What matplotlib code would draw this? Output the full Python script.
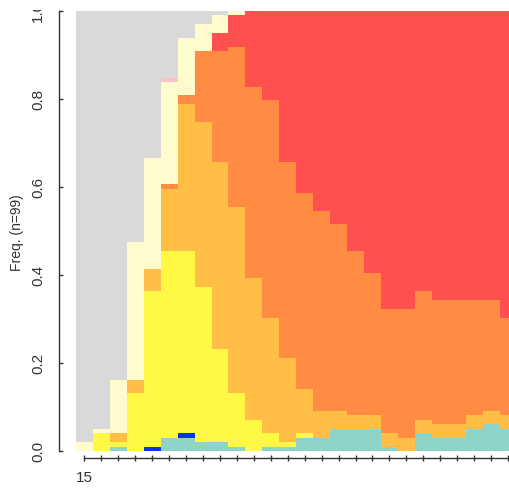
import numpy as np
import matplotlib
matplotlib.use('Agg')
import matplotlib.pyplot as plt
from matplotlib.transforms import Bbox, TransformedBbox

plt.rcParams['font.family'] = ['Liberation Sans', 'DejaVu Sans']

n = 99
# counts per column (26 columns), stacked bottom -> top
teal    = [0,0,1,0,0,3,3,2,2,1,0,1,1,3,3,5,5,5,1,0,4,3,3,5,6,5]
blue    = [0,0,0,0,1,0,1,0,0,0,0,0,0,0,0,0,0,0,0,0,0,0,0,0,0,0]
yellow  = [0,4,1,13,35,42,41,35,21,12,7,3,1,1,0,0,0,0,0,0,0,0,0,0,0,0]
lorange = [0,0,2,3,5,14,33,37,42,42,32,26,19,10,6,4,3,3,3,3,3,3,3,3,3,3]
orange  = [0,0,0,0,0,1,2,16,25,36,43,49,44,44,45,42,37,32,28,29,29,28,28,26,25,22]
red     = [0,0,0,0,0,0,0,0,4,7,17,20,34,41,45,48,54,59,67,67,63,65,65,65,65,69]
lyellow = [2,1,12,31,25,23,13,6,4,1,0,0,0,0,0,0,0,0,0,0,0,0,0,0,0,0]
pink    = [0,0,0,0,0,1,0,0,0,0,0,0,0,0,0,0,0,0,0,0,0,0,0,0,0,0]
gray    = [97,94,83,52,33,15,6,3,1,0,0,0,0,0,0,0,0,0,0,0,0,0,0,0,0,0]
xlabels = ['15'] + [''] * 25

layers = [teal, blue, yellow, lorange, orange, red, lyellow, pink, gray]
colors = ['#8DD3C7', '#0A35E0', '#FFF844', '#FFBF47', '#FF8C42',
          '#FF4F4F', '#FFFBCC', '#FFC0CB', '#D9D9D9']

fig = plt.figure(figsize=(5.09, 4.88), dpi=100)
W, H = 509, 488
colw = 16.94
ax = fig.add_axes([76 / W, (H - 451) / H, 26 * colw / W, 440 / H])

edges = np.arange(len(teal) + 1)
base = np.zeros(len(teal))
for vals, c in zip(layers, colors):
    v = np.array(vals) / n
    ax.stairs(base + v, edges, baseline=base.copy(), fill=True,
              color=c, linewidth=0)
    base = base + v

ax.set_xlim(0, 26)
ax.set_ylim(0, 1)

for s in ['top', 'right']:
    ax.spines[s].set_visible(False)
ax.spines['left'].set_position(('outward', 17 * 0.72))
ax.spines['left'].set_bounds(0, 1)
ax.spines['bottom'].set_position(('outward', 7 * 0.72))
ax.spines['bottom'].set_bounds(0.5, 25.5)
for s in ['left', 'bottom']:
    ax.spines[s].set_color('#333333')
    ax.spines[s].set_linewidth(1.0)

ax.set_yticks([0, 0.2, 0.4, 0.6, 0.8, 1.0])
ax.set_yticklabels(['0.0', '0.2', '0.4', '0.6', '0.8', '1.0'],
                   rotation=90, va='center', ha='right')
ax.tick_params(axis='y', direction='in', length=3, width=1, pad=10,
               labelsize=11, colors='#333333')
ax.set_xticks(np.arange(26) + 0.5)
ax.set_xticklabels(xlabels)
ax.tick_params(axis='x', direction='inout', length=5, width=1, pad=7,
               labelsize=11, colors='#333333')

clip = TransformedBbox(Bbox([[0, 0], [1, 1 - 10 / H]]), fig.transFigure)
for lbl in ax.get_yticklabels():
    lbl.set_clip_box(clip)
    lbl.set_clip_on(True)

fig.text(17 / W, 1 - 233 / H, 'Freq. (n=99)', rotation=90, ha='center',
         va='center', fontsize=10, color='#333333')

fig.savefig('out.png', dpi=100)
